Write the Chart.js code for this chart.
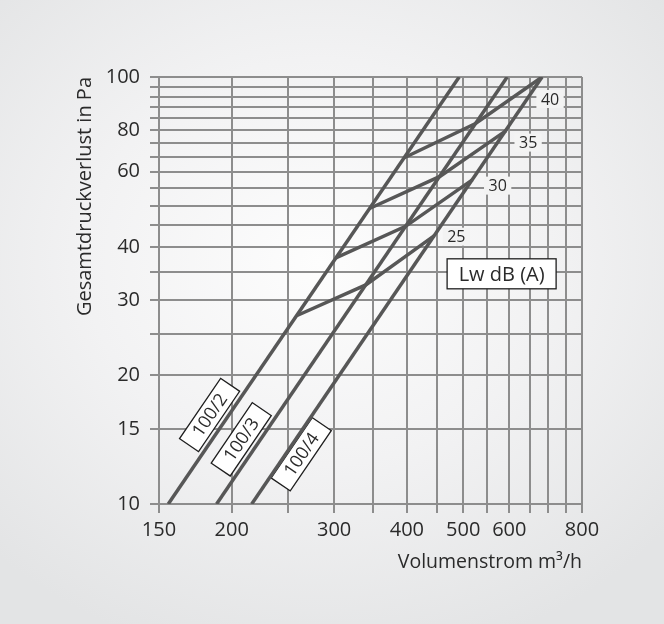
<!DOCTYPE html>
<html lang="de">
<head>
<meta charset="utf-8">
<title>Druckverlust Volumenstrom</title>
<script src="https://cdn.jsdelivr.net/npm/chart.js@4.4.1/dist/chart.umd.min.js"></script>
<style>
  html, body { margin: 0; padding: 0; }
  body {
    width: 664px; height: 624px; overflow: hidden;
    background: radial-gradient(ellipse 70% 65% at 48% 42%, #fdfdfd 0%, #f2f2f3 50%, #e3e4e5 100%);
  }
  #rahmen { position: relative; width: 664px; height: 624px; }
</style>
</head>
<body>
<div id="rahmen"><canvas id="diagramm"></canvas></div>
<script>
// Raster und Achsbeschriftung
const volumenRaster = [150, 200, 250, 300, 350, 400, 450, 500, 550, 600, 650, 700, 750, 800];
const volumenBeschriftung = [150, 200, 300, 400, 500, 600, 800];
const druckRaster = [10, 15, 20, 25, 30, 35, 40, 45, 50, 55, 60, 65, 70, 75, 80, 85, 90, 95, 100];
const druckBeschriftungWerte = [10, 15, 20, 30, 40, 60, 75, 100];
const druckBeschriftungTexte = ['10', '15', '20', '30', '40', '60', '80', '100'];

// Kennlinien der Ventile: Anfangs- und Endpunkt (Gerade im log-log-Netz)
const ventile = ['100/2', '100/3', '100/4'];
const ventilVolumen = [[155.6, 492], [188.4, 595], [216.5, 683]];
const ventilDruck = [[10, 100], [10, 100], [10, 100]];

// Linien gleicher Schallleistung Lw dB (A): Schnittpunkte mit 100/2, 100/3, 100/4
const schallPegel = ['25', '30', '35', '40'];
const schallVolumen = [[258.5, 340, 446], [302, 398, 519], [345, 456, 592.5], [395.8, 525, 683]];
const schallDruck = [[27.6, 32.6, 42.5], [37.7, 44.7, 57.5], [49.2, 58.5, 74.9], [64.7, 77.8, 100]];

const schrift = '"Open Sans", "DejaVu Sans", sans-serif';
const rasterFarbe = '#8d8d8d';
const linienFarbe = '#575757';
const textFarbe = '#2a2a2a';

const punkte = (vol, druck) => vol.map((q, j) => ({ x: q, y: druck[j] }));

const datensaetze = [];
ventile.forEach((name, i) => {
    datensaetze.push({
        label: name,
        data: punkte(ventilVolumen[i], ventilDruck[i]),
        borderColor: linienFarbe,
        borderWidth: 3.5,
        pointRadius: 0,
        fill: false
    });
});
schallPegel.forEach((pegel, i) => {
    datensaetze.push({
        label: pegel + ' dB',
        data: punkte(schallVolumen[i], schallDruck[i]),
        borderColor: linienFarbe,
        borderWidth: 3.5,
        pointRadius: 0,
        fill: false
    });
});

// Schilder an den Kennlinien, dB-Werte und Legendenkasten
const beschriftung = {
    id: 'beschriftung',
    beforeDatasetsDraw(chart, args, opts) {
        const { ctx, scales: { x, y } } = chart;
        ctx.save();

        // dB-Werte rechts neben dem Linienende, mit hellem Hintergrund
        ctx.font = '16px ' + schrift;
        ctx.textAlign = 'center';
        ctx.textBaseline = 'middle';
        schallPegel.forEach((txt, i) => {
            const letzter = schallVolumen[i].length - 1;
            const px = x.getPixelForValue(schallVolumen[i][letzter]) + opts.pegelVersatz[i][0];
            const py = y.getPixelForValue(schallDruck[i][letzter]) + opts.pegelVersatz[i][1];
            const w = ctx.measureText(txt).width + 9;
            ctx.fillStyle = '#f3f3f3';
            ctx.fillRect(px - w / 2, py - 9, w, 18);
            ctx.fillStyle = textFarbe;
            ctx.fillText(txt, px, py + 1);
        });

        // Schilder 100/2, 100/3, 100/4 parallel zur Kennlinie
        ctx.font = '18px ' + schrift;
        ventile.forEach((txt, i) => {
            const [q0, q1] = ventilVolumen[i];
            const [p0, p1] = ventilDruck[i];
            const p = opts.schildDruck[i];
            const t = Math.log(p / p0) / Math.log(p1 / p0);
            const q = q0 * Math.pow(q1 / q0, t);
            const x0 = x.getPixelForValue(q0), y0 = y.getPixelForValue(p0);
            const x1 = x.getPixelForValue(q1), y1 = y.getPixelForValue(p1);
            const winkel = Math.atan2(y1 - y0, x1 - x0);
            const nx = Math.sin(winkel), ny = -Math.cos(winkel);
            const abstand = opts.schildAbstand[i];
            const cx = x.getPixelForValue(q) + nx * abstand;
            const cy = y.getPixelForValue(p) + ny * abstand;
            ctx.save();
            ctx.translate(cx, cy);
            ctx.rotate(winkel);
            ctx.fillStyle = '#ffffff';
            ctx.fillRect(-36.5, -11.5, 73, 23);
            ctx.strokeStyle = '#1e1e1e';
            ctx.lineWidth = 1.3;
            ctx.strokeRect(-36.5, -11.5, 73, 23);
            ctx.fillStyle = textFarbe;
            ctx.fillText(txt, 0, 1);
            ctx.restore();
        });

        // Kasten "Lw dB (A)"
        const lx = x.getPixelForValue(opts.legendePunkt[0]);
        const ly = y.getPixelForValue(opts.legendePunkt[1]);
        ctx.fillStyle = '#ffffff';
        ctx.fillRect(lx - 54.5, ly - 15, 109, 30);
        ctx.strokeStyle = '#1e1e1e';
        ctx.lineWidth = 1.3;
        ctx.strokeRect(lx - 54.5, ly - 15, 109, 30);
        ctx.font = '20px ' + schrift;
        ctx.fillStyle = textFarbe;
        ctx.fillText('Lw dB (A)', lx, ly + 1);

        ctx.restore();
    }
};

const diagramm = new Chart(document.getElementById('diagramm'), {
    type: 'line',
    data: { datasets: datensaetze },
    plugins: [beschriftung],
    options: {
        responsive: true,
        maintainAspectRatio: false,
        animation: false,
        parsing: false,
        layout: { padding: { left: 0, top: 77, right: 82, bottom: 0 } },
        plugins: {
            legend: { display: false },
            tooltip: { enabled: false },
            beschriftung: {
                pegelVersatz: [[22, 1], [25, 6], [22, 12], [8, 22]],
                schildDruck: [15.4, 13.5, 13.6],
                schildAbstand: [16, 16, -13],
                legendePunkt: [582, 34.6]
            }
        },
        elements: { line: { borderCapStyle: 'butt', borderJoinStyle: 'miter', tension: 0 } },
        scales: {
            x: {
                type: 'logarithmic',
                min: 150,
                max: 800,
                afterBuildTicks: (s) => { s.ticks = volumenRaster.map(v => ({ value: v })); },
                afterFit: (s) => { s.height = 120; },
                ticks: {
                    autoSkip: false,
                    maxRotation: 0,
                    padding: 5,
                    color: textFarbe,
                    font: { family: schrift, size: 20 },
                    callback: (v) => volumenBeschriftung.includes(v) ? String(v) : ''
                },
                grid: { color: rasterFarbe, lineWidth: 2, tickLength: 9 },
                border: { color: rasterFarbe, width: 2 },
                title: {
                    display: true,
                    text: 'Volumenstrom m³/h',
                    align: 'end',
                    color: textFarbe,
                    font: { family: schrift, size: 19.5 },
                    padding: { top: 0, bottom: 50 }
                }
            },
            y: {
                type: 'logarithmic',
                min: 10,
                max: 100,
                afterBuildTicks: (s) => { s.ticks = druckRaster.map(v => ({ value: v })); },
                afterFit: (s) => { s.width = 159; },
                ticks: {
                    autoSkip: false,
                    padding: 10,
                    color: textFarbe,
                    font: { family: schrift, size: 20 },
                    callback: (v) => {
                        const k = druckBeschriftungWerte.indexOf(v);
                        return k >= 0 ? druckBeschriftungTexte[k] : '';
                    }
                },
                grid: { color: rasterFarbe, lineWidth: 2, tickLength: 9 },
                border: { color: rasterFarbe, width: 2 },
                title: {
                    display: true,
                    text: 'Gesamtdruckverlust in Pa',
                    align: 'end',
                    color: textFarbe,
                    font: { family: schrift, size: 20 },
                    padding: { top: 73, bottom: 0 }
                }
            }
        }
    }
});
</script>
</body>
</html>
